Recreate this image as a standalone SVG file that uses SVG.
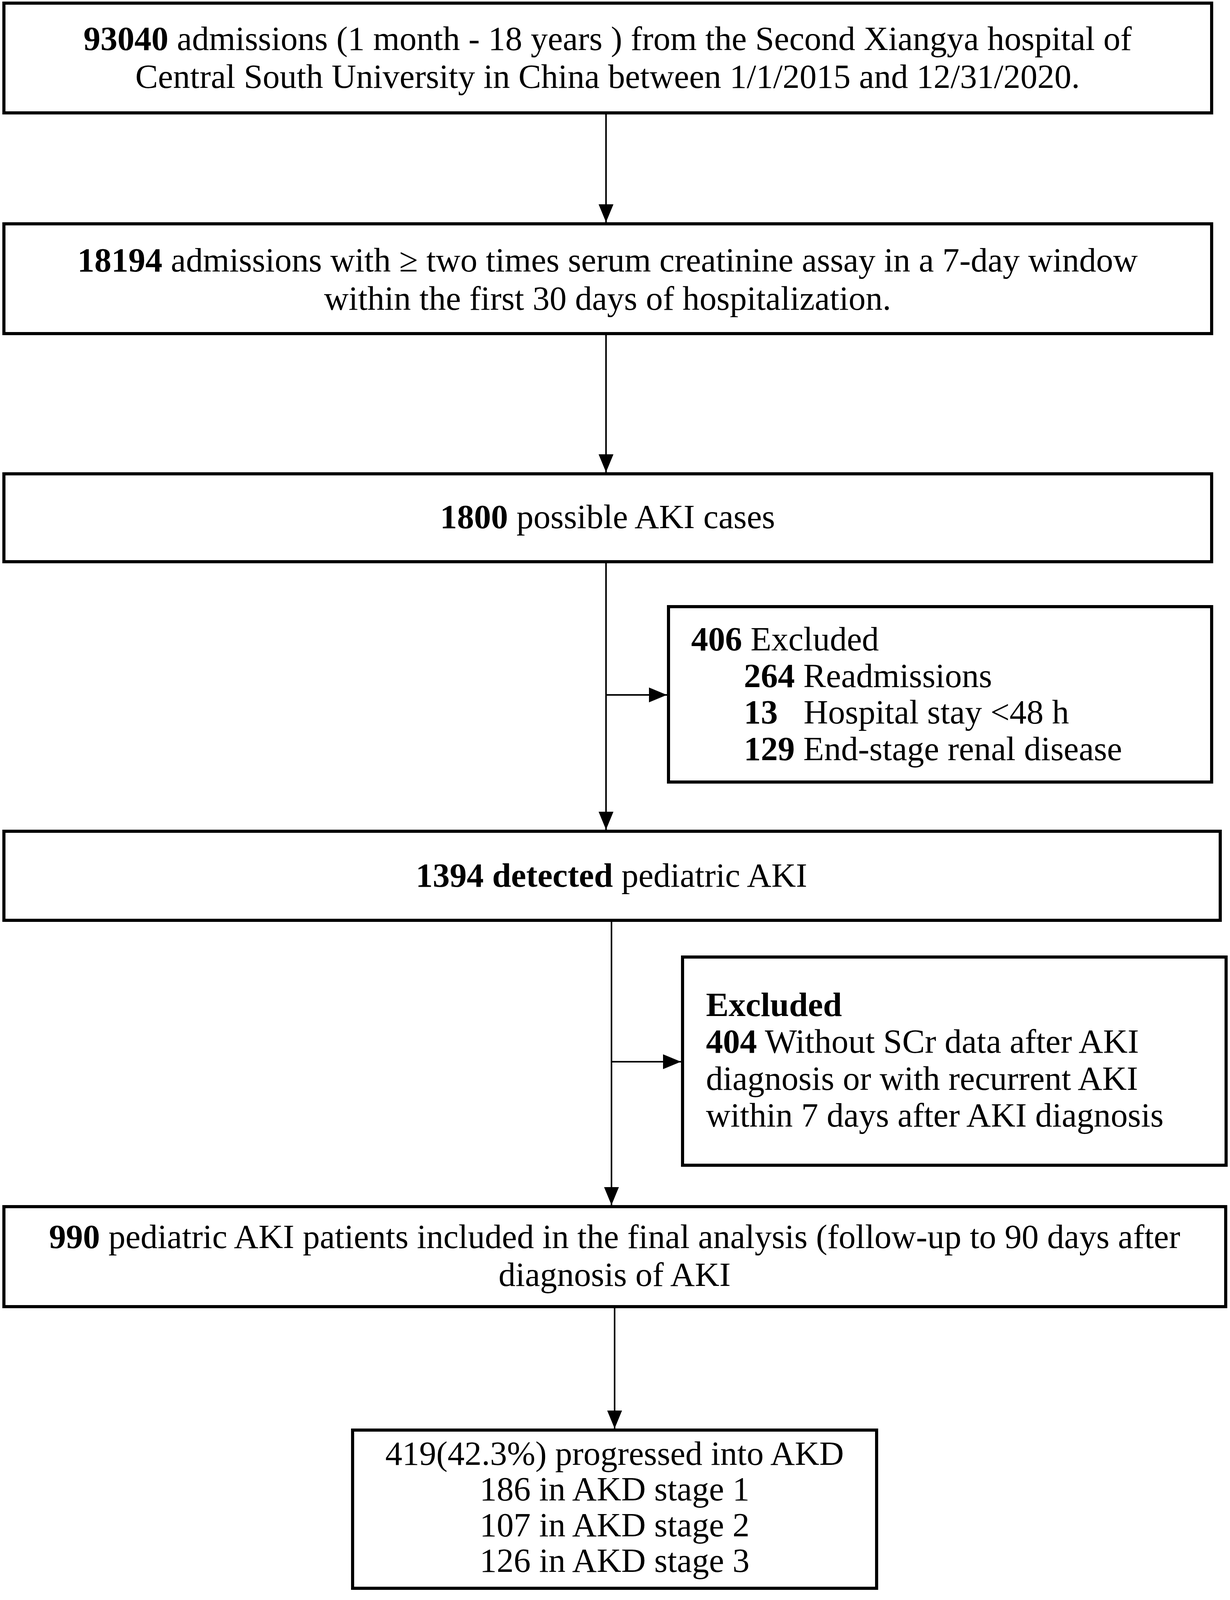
<svg xmlns="http://www.w3.org/2000/svg" width="3150" height="4493" viewBox="0 0 3150 4493">
<style>
.box{fill:#fff;stroke:#000;stroke-width:8}
.conn{fill:none;stroke:#000;stroke-width:4}
text{font-family:"Liberation Serif","Times New Roman",serif;font-size:87px;fill:#000}
.c{text-anchor:middle}
.b{font-weight:bold}
</style>
<defs>
<marker id="arr" markerUnits="userSpaceOnUse" markerWidth="46" markerHeight="38" refX="46" refY="19" orient="auto">
<path d="M0,0 L46,19 L0,38 Z" fill="#000"/>
</marker>
</defs>
<rect width="3150" height="4493" fill="#fff"/>
<g id="connectors">
<line class="conn" x1="1552" y1="289" x2="1552" y2="569" marker-end="url(#arr)"/>
<line class="conn" x1="1552" y1="854" x2="1552" y2="1209" marker-end="url(#arr)"/>
<line class="conn" x1="1552" y1="1438" x2="1552" y2="2124" marker-end="url(#arr)"/>
<line class="conn" x1="1552" y1="1779" x2="1708" y2="1779" marker-end="url(#arr)"/>
<line class="conn" x1="1566" y1="2356" x2="1566" y2="3085" marker-end="url(#arr)"/>
<line class="conn" x1="1566" y1="2718" x2="1744" y2="2718" marker-end="url(#arr)"/>
<line class="conn" x1="1574" y1="3345" x2="1574" y2="3657" marker-end="url(#arr)"/>
</g>
<g id="n1">
<rect class="box" x="10" y="8" width="3093" height="281"/>
<text class="c" x="1556" y="128"><tspan class="b">93040</tspan> admissions (1 month - 18 years ) from the Second Xiangya hospital of</text>
<text class="c" x="1556" y="225">Central South University in China between 1/1/2015 and 12/31/2020.</text>
</g>
<g id="n2">
<rect class="box" x="10" y="573" width="3093" height="281"/>
<text class="c" x="1556" y="695"><tspan class="b">18194</tspan> admissions with ≥ two times serum creatinine assay in a 7-day window</text>
<text class="c" x="1556" y="793">within the first 30 days of hospitalization.</text>
</g>
<g id="n3">
<rect class="box" x="10" y="1213" width="3093" height="225"/>
<text class="c" x="1556" y="1352"><tspan class="b">1800</tspan> possible AKI cases</text>
</g>
<g id="n4">
<rect class="box" x="1712" y="1553" width="1391" height="449"/>
<text x="1770" y="1665"><tspan class="b">406</tspan> Excluded</text>
<text x="1905" y="1759"><tspan class="b">264</tspan> Readmissions</text>
<text x="1905" y="1852"><tspan class="b">13</tspan><tspan x="2058">Hospital stay &lt;48 h</tspan></text>
<text x="1905" y="1946"><tspan class="b">129</tspan> End-stage renal disease</text>
</g>
<g id="n5">
<rect class="box" x="10" y="2128" width="3115" height="228"/>
<text class="c" x="1566" y="2270"><tspan class="b">1394 detected</tspan> pediatric AKI</text>
</g>
<g id="n6">
<rect class="box" x="1748" y="2450" width="1392" height="533"/>
<text class="b" x="1808" y="2601">Excluded</text>
<text x="1808" y="2695"><tspan class="b">404</tspan> Without SCr data after AKI</text>
<text x="1808" y="2790">diagnosis or with recurrent AKI</text>
<text x="1808" y="2884">within 7 days after AKI diagnosis</text>
</g>
<g id="n7">
<rect class="box" x="10" y="3089" width="3129" height="256"/>
<text class="c" x="1574" y="3195"><tspan class="b">990</tspan> pediatric AKI patients included in the final analysis (follow-up to 90 days after</text>
<text class="c" x="1574" y="3292">diagnosis of AKI</text>
</g>
<g id="n8">
<rect class="box" x="903" y="3661" width="1342" height="405"/>
<text class="c" x="1574" y="3750">419(42.3%) progressed into AKD</text>
<text class="c" x="1574" y="3841">186 in AKD stage 1</text>
<text class="c" x="1574" y="3933">107 in AKD stage 2</text>
<text class="c" x="1574" y="4024">126 in AKD stage 3</text>
</g>
</svg>
